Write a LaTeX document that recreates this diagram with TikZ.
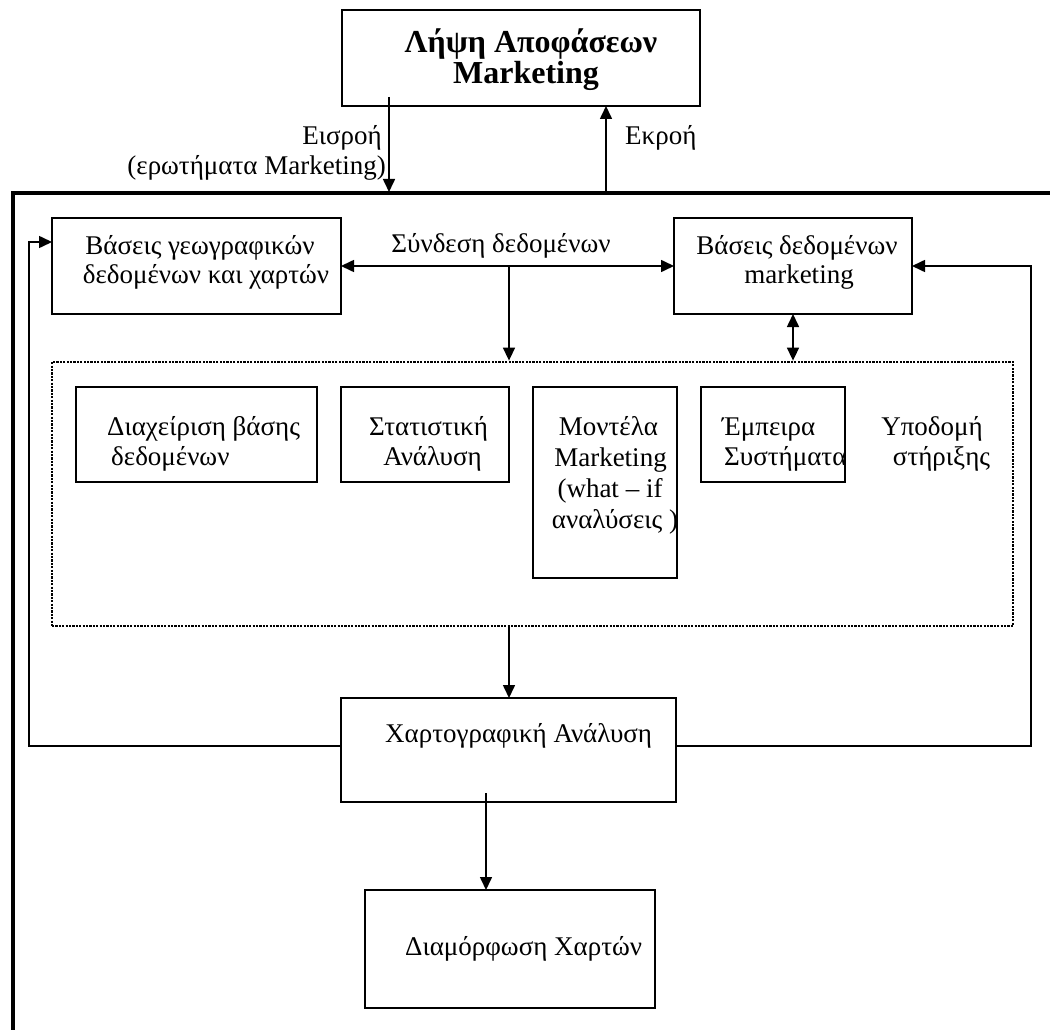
\documentclass[tikz,border=0pt]{standalone}
\usepackage{fontspec}
\setmainfont{Liberation Serif}
\usetikzlibrary{arrows.meta}
\begin{document}
\begin{tikzpicture}[x=1pt,y=-1pt,
  box/.style={draw, line width=1.6pt, inner sep=0pt, outer sep=0pt},
  txt/.style={inner sep=0pt, font=\fontsize{27}{31}\selectfont},
  ttl/.style={inner sep=0pt, font=\fontsize{32}{34}\selectfont\bfseries},
  conn/.style={line width=1.6pt},
  arr/.style={conn, -{Triangle[length=13pt,width=12pt]}},
  darr/.style={conn, {Triangle[length=13pt,width=12pt]}-{Triangle[length=13pt,width=12pt]}},
  frame/.style={line width=3.6pt},
  dots/.style={line width=2.8pt, dash pattern=on 2.2pt off 1.2pt}]
\useasboundingbox (0,0) rectangle (1050,1030);

% decision block at the top
\node[box, minimum width=358pt, minimum height=96pt] (top) at (521,58) {};
\node[ttl, anchor=base] (top1) at (531,53) {Λήψη Αποφάσεων};
\node[ttl, anchor=base] (top2) at (526,84) {Marketing};

% outer system frame
\coordinate (frTR) at (1050,193);
\coordinate (frTL) at (13,193);
\coordinate (frBL) at (13,1030);
\draw[frame] (frTR) -- (frTL) -- (frBL);

% input / output between decision block and system
\coordinate (inS) at (389,97);
\coordinate (inE) at (389,192);
\coordinate (outS) at (606,193);
\draw[arr] (inS) -- (inE);
\draw[arr] (outS) -- (top.south -| outS);
\node[txt, anchor=base east] (inlbl1) at (382,145) {Εισροή};
\node[txt, anchor=base east] (inlbl2) at (386,175) {(ερωτήματα Marketing)};
\node[txt, anchor=base west] (outlbl) at (625,145) {Εκροή};

% data bases
\node[box, minimum width=289pt, minimum height=96pt] (gb) at (196.5,266) {};
\node[txt, anchor=base] (gb1) at (200,254) {Βάσεις γεωγραφικών};
\node[txt, anchor=base] (gb2) at (206,283) {δεδομένων και χαρτών};
\node[box, minimum width=238pt, minimum height=96pt] (md) at (793,266) {};
\node[txt, anchor=base] (md1) at (797,254) {Βάσεις δεδομένων};
\node[txt, anchor=base] (md2) at (799,283) {marketing};
\node[txt, anchor=base] (link) at (501,252) {Σύνδεση δεδομένων};
\draw[darr] (gb.east) -- (md.west);

% support infrastructure (dotted)
\node[draw, dots, minimum width=961pt, minimum height=264pt, inner sep=0pt] (sup) at (532.5,494) {};
\coordinate (j) at (509,266);
\draw[arr] (j) -- (j |- sup.north);
\draw[darr] (md.south) -- (md.south |- sup.north);

% components of the support infrastructure
\node[box, minimum width=241pt, minimum height=95pt] (dbm) at (196.5,434.5) {};
\node[box, minimum width=168pt, minimum height=95pt] (stat) at (425,434.5) {};
\node[box, minimum width=144pt, minimum height=191pt] (mod) at (605,482.5) {};
\node[box, minimum width=144pt, minimum height=95pt] (exp) at (773,434.5) {};

\node[txt, anchor=base west] (dbm1) at (107,435) {Διαχείριση βάσης};
\node[txt, anchor=base west] (dbm2) at (111,465) {δεδομένων};
\node[txt, anchor=base] (stat1) at (428.5,435) {Στατιστική};
\node[txt, anchor=base] (stat2) at (432.5,465) {Ανάλυση};
\node[txt, anchor=base] (mod1) at (608.5,435) {Μοντέλα};
\node[txt, anchor=base] (mod2) at (610.5,466) {Marketing};
\node[txt, anchor=base] (mod3) at (610,497) {(what – if};
\node[txt, anchor=base] (mod4) at (615,528) {αναλύσεις )};
\node[txt, anchor=base west] (exp1) at (722,435) {Έμπειρα};
\node[txt, anchor=base west] (exp2) at (724,465) {Συστήματα};
\node[txt, anchor=base] (sup1) at (932,435) {Υποδομή};
\node[txt, anchor=base] (sup2) at (941.5,465) {στήριξης};

% cartographic analysis
\node[box, minimum width=335pt, minimum height=104pt] (carto) at (508.5,750) {};
\node[txt, anchor=base west] (cartot) at (385,742) {Χαρτογραφική Ανάλυση};
\draw[arr] (sup.south -| j) -- (carto.north -| j);

% feedback loops to the data bases
\coordinate (fbL1) at (29,746);
\coordinate (fbL2) at (29,242);
\draw[arr] (carto.west |- fbL1) -- (fbL1) -- (fbL2) -- (gb.west |- fbL2);
\coordinate (fbR1) at (1031,746);
\coordinate (fbR2) at (1031,266);
\draw[arr] (carto.east |- fbR1) -- (fbR1) -- (fbR2) -- (md.east |- fbR2);

% map composition
\node[box, minimum width=290pt, minimum height=118pt] (map) at (510,949) {};
\node[txt, anchor=base west] (mapt) at (405,955) {Διαμόρφωση Χαρτών};
\coordinate (mS) at (486,793);
\draw[arr] (mS) -- (map.north -| mS);
\end{tikzpicture}
\end{document}
